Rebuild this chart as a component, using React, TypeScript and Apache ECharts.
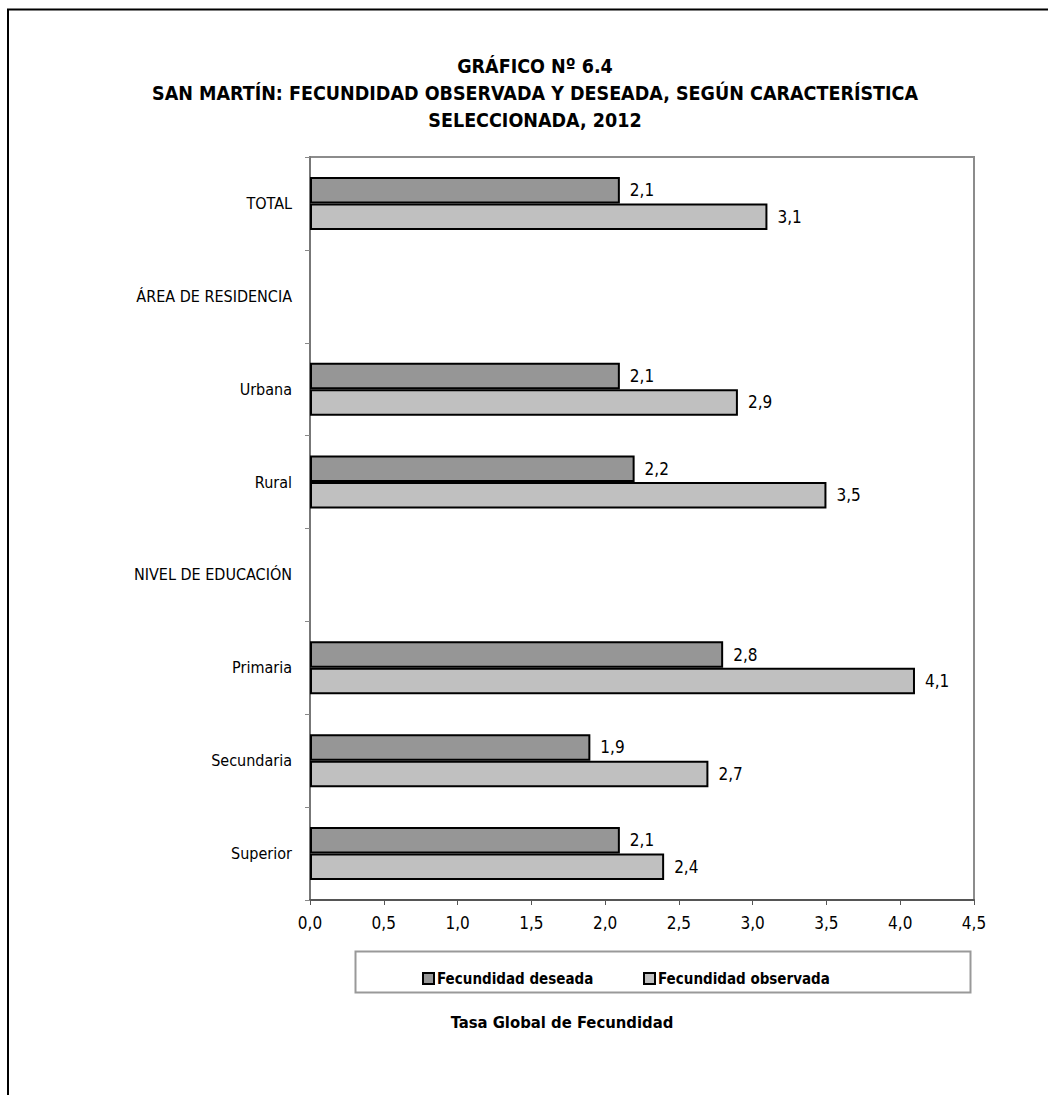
import React, { useEffect, useRef } from "react";
import * as echarts from "echarts";

const categories = [
  "TOTAL",
  "ÁREA DE RESIDENCIA",
  "Urbana",
  "Rural",
  "NIVEL DE EDUCACIÓN",
  "Primaria",
  "Secundaria",
  "Superior",
];
const deseada: (number | null)[] = [2.1, null, 2.1, 2.2, null, 2.8, 1.9, 2.1];
const observada: (number | null)[] = [3.1, null, 2.9, 3.5, null, 4.1, 2.7, 2.4];
const xTicks = { min: 0, max: 4.5, interval: 0.5 };
const titleLines = [
  "GRÁFICO Nº 6.4",
  "SAN MARTÍN: FECUNDIDAD OBSERVADA Y DESEADA, SEGÚN CARACTERÍSTICA",
  "SELECCIONADA, 2012",
];
const seriesNames = ["Fecundidad deseada", "Fecundidad observada"];
const axisTitle = "Tasa Global de Fecundidad";

const FONT = "'Liberation Sans Narrow', 'DejaVu Sans Condensed', 'Liberation Sans', Arial, sans-serif";

export default function App() {
  const ref = useRef<HTMLDivElement>(null);
  useEffect(() => {
    if (!ref.current) return;
    const chart = echarts.init(ref.current, undefined, { renderer: "svg" });
    const fmt = (v: number) => v.toFixed(1).replace(".", ",");
    const labelCfg = {
      show: true,
      position: "right" as const,
      distance: 10,
      color: "#000",
      fontFamily: FONT,
      fontSize: 17,
      formatter: (p: any) => fmt(p.value),
    };
    const legendText = {
      fontFamily: FONT,
      fontSize: 15,
      fontWeight: "bold",
      color: "#000",
      padding: [0, 0, 0, -2],
    };
    chart.setOption({
      animation: false,
      backgroundColor: "#fff",
      title: {
        text: titleLines.join("\n"),
        left: 530,
        top: 48,
        textAlign: "center",
        textStyle: {
          fontFamily: FONT,
          fontSize: 19.5,
          fontWeight: "bold",
          lineHeight: 27,
          color: "#000",
        },
      },
      legend: [
        {
          data: [seriesNames[0]],
          left: 417,
          top: 966,
          icon: "rect",
          itemWidth: 11,
          itemHeight: 11,
          itemGap: 0,
          textStyle: legendText,
        },
        {
          data: [seriesNames[1]],
          left: 638,
          top: 966,
          icon: "rect",
          itemWidth: 11,
          itemHeight: 11,
          itemGap: 0,
          textStyle: legendText,
        },
      ],
      grid: {
        left: 310,
        top: 157,
        width: 664,
        height: 743,
        show: true,
        borderColor: "#8c8c8c",
        borderWidth: 2,
        containLabel: false,
      },
      xAxis: {
        type: "value",
        min: xTicks.min,
        max: xTicks.max,
        interval: xTicks.interval,
        axisLine: { show: true, lineStyle: { color: "#555", width: 2 } },
        axisTick: { show: true, length: 5, lineStyle: { color: "#555", width: 1 } },
        splitLine: { show: false },
        axisLabel: {
          formatter: (v: number) => fmt(v),
          fontFamily: FONT,
          fontSize: 17,
          color: "#000",
          margin: 14,
        },
      },
      yAxis: {
        type: "category",
        inverse: true,
        data: categories,
        axisLine: { show: true, lineStyle: { color: "#777", width: 2 } },
        axisTick: { show: true, length: 5, lineStyle: { color: "#888", width: 1 } },
        axisLabel: {
          fontFamily: FONT,
          fontSize: 16,
          color: "#000",
          margin: 18,
        },
      },
      series: [
        {
          name: seriesNames[0],
          type: "bar",
          data: deseada,
          barGap: "0%",
          barCategoryGap: "43%",
          itemStyle: { color: "#969696", borderColor: "#000", borderWidth: 2 },
          label: labelCfg,
        },
        {
          name: seriesNames[1],
          type: "bar",
          data: observada,
          barGap: "0%",
          barCategoryGap: "43%",
          itemStyle: { color: "#c0c0c0", borderColor: "#000", borderWidth: 2 },
          label: labelCfg,
        },
      ],
      graphic: [
        {
          type: "rect",
          shape: { x: 8, y: 9.5, width: 1200, height: 1200 },
          style: { fill: "none", stroke: "#000", lineWidth: 2 },
          silent: true,
          z: 100,
        },
        {
          type: "rect",
          shape: { x: 355.5, y: 951.5, width: 615, height: 41 },
          style: { fill: "none", stroke: "#999", lineWidth: 2 },
          silent: true,
        },
        {
          type: "text",
          x: 562,
          y: 1022,
          style: {
            text: axisTitle,
            fontFamily: FONT,
            fontSize: 16.5,
            fontWeight: "bold",
            fill: "#000",
            align: "center",
            verticalAlign: "middle",
          },
        },
      ],
    });
    return () => chart.dispose();
  }, []);
  return (
    <div
      ref={ref}
      style={{ position: "absolute", left: 0, top: 0, width: 1048, height: 1095 }}
    />
  );
}
